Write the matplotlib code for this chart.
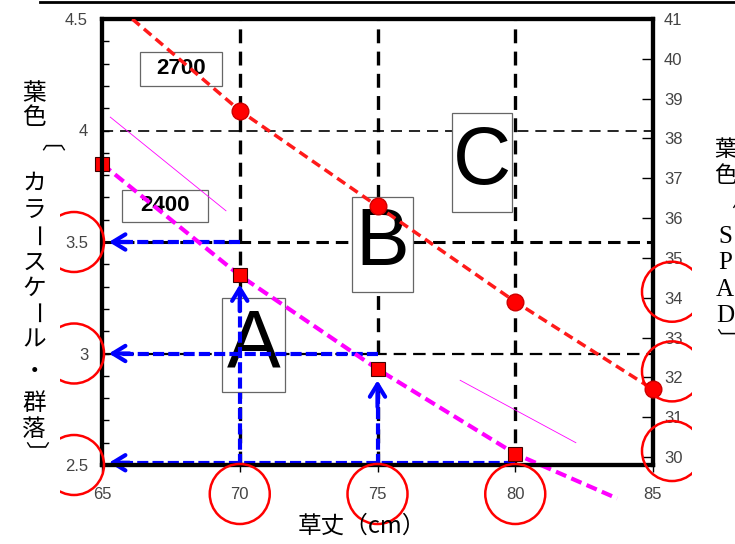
import matplotlib
matplotlib.use('Agg')
from matplotlib import pyplot as plt
from matplotlib.patches import Rectangle, Circle
from matplotlib.transforms import IdentityTransform, Bbox
from matplotlib.lines import Line2D

plt.rcParams['lines.scale_dashes'] = False

# colour scale (left axis): red squares on the magenta curve
sq_x = [65, 70, 75, 80]
sq_y = [3.85, 3.35, 2.93, 2.55]
mag_x = [65, 70, 75, 80, 83.7]
mag_y = [3.85, 3.35, 2.93, 2.55, 2.35]
thin1_x = [65.3, 69.5]
thin1_y = [4.06, 3.64]
thin2_x = [78.0, 82.2]
thin2_y = [2.88, 2.60]

# SPAD (right axis): red circles on the red line
spad_x = [70, 75, 80, 85]
spad_y = [38.7, 36.3, 33.9, 31.7]
spad_line_x = [66.1, 70, 75, 80, 85]
spad_line_y = [41, 38.7, 36.3, 33.9, 31.7]

xticks = [65, 70, 75, 80, 85]
yticks = [2.5, 3, 3.5, 4, 4.5]
ytick_labels = ['2.5', '3', '3.5', '4', '4.5']
spad_ticks = list(range(30, 42))

grid_x = [70, 75, 80]
# blue arrows: horizontal (start x, level) and vertical (x, tip level)
arrow_h = [(70, 3.5), (75, 3.0), (80, 2.51)]
arrow_v = [(70, 3.31), (75, 2.88)]

# circled ticks
circ_left = [3.5, 3.0, 2.5]
circ_bottom = [70, 75, 80]
circ_right = [34, 32, 30]

W, H = 735, 544
fig = plt.figure(figsize=(W / 100, H / 100), dpi=100)
ax = fig.add_axes([102 / W, 79 / H, 551 / W, 446 / H])
ax.set_xlim(65, 85)
ax.set_ylim(2.5, 4.5)
ax2 = ax.twinx()
ax2.set_ylim(29.8, 41)

tick_font = dict(family='Liberation Sans', size=12, color='#444')
ax.set_xticks(xticks)
ax.set_xticklabels([str(t) for t in xticks], **tick_font)
ax.set_yticks(yticks)
ax.set_yticklabels(ytick_labels, **tick_font)
ax.set_yticks([2.5 + 0.1 * i for i in range(21)], minor=True)
ax.tick_params(axis='x', direction='out', length=5, width=1, pad=11)
ax.tick_params(axis='y', which='both', direction='in', length=5, width=1, pad=10)
ax2.set_yticks(spad_ticks)
ax2.set_yticklabels([str(t) for t in spad_ticks], **tick_font)
ax2.tick_params(axis='y', direction='in', length=8, width=1, pad=8)
for a in (ax, ax2):
    for s in a.spines.values():
        s.set_linewidth(3)
        s.set_color('black')

# black dashed guide lines
for gx in grid_x:
    ax.axvline(gx, color='black', lw=2.4, dashes=(10, 6), zorder=2)
ax.axhline(4.0, color='black', lw=1.2, dashes=(8, 5), zorder=2)
ax.axhline(3.5, color='black', lw=2.2, dashes=(9, 5), zorder=2)
ax.axhline(3.0, color='black', lw=1.6, dashes=(9, 5), zorder=2)

# label boxes
def box(x0, y0, x1, y1, label, size, weight='normal', family=None):
    ax.add_patch(Rectangle((x0, y0), x1 - x0, y1 - y0, facecolor='white',
                           edgecolor='#666', lw=0.9, zorder=3))
    ax.text((x0 + x1) / 2, (y0 + y1) / 2, label, ha='center', va='center',
            fontsize=size, weight=weight, zorder=3.5,
            family=family or ['Liberation Sans', 'DejaVu Sans'])

narrow = ['Liberation Sans Narrow', 'Liberation Sans', 'DejaVu Sans']
box(66.38, 4.20, 69.36, 4.352, '2700', 16, 'bold')
box(65.73, 3.59, 68.85, 3.733, '2400', 16, 'bold')
box(69.35, 2.827, 71.64, 3.249, 'A', 58, family=narrow)
box(74.07, 3.276, 76.29, 3.702, 'B', 58, family=narrow)
box(77.70, 3.635, 79.88, 4.078, 'C', 58, family=narrow)

# blue dashed arrows
for x0, yl in arrow_h:
    ax.plot([x0, 65.6], [yl, yl], color='blue', lw=3, dashes=(8, 3), zorder=4)
    ax.annotate('', xy=(65.25, yl), xytext=(66.0, yl), zorder=4,
                arrowprops=dict(arrowstyle='->,head_length=0.9,head_width=0.55',
                                color='blue', lw=3, shrinkA=0, shrinkB=0))
for xv, yt in arrow_v:
    ax.plot([xv, xv], [2.5, yt - 0.04], color='blue', lw=3, dashes=(8, 3), zorder=4)
    ax.annotate('', xy=(xv, yt), xytext=(xv, yt - 0.12), zorder=4,
                arrowprops=dict(arrowstyle='->,head_length=0.9,head_width=0.55',
                                color='blue', lw=3, shrinkA=0, shrinkB=0))

# magenta curves and squares
ax.plot(thin1_x, thin1_y, color='#ff00ff', lw=0.6, zorder=4)
ax.plot(thin2_x, thin2_y, color='#ff00ff', lw=0.6, zorder=4)
ax.plot(mag_x, mag_y, color='#ff00ff', lw=3, dashes=(8, 4), zorder=5, clip_on=False)
ax.plot(sq_x, sq_y, 's', color='red', ms=10, mec='#400000', mew=0.8, zorder=6, clip_on=False)

# SPAD line and circles
ax2.plot(spad_line_x, spad_line_y, color='#ff1a1a', lw=2.5, dashes=(7, 4), zorder=3)
ax2.plot(spad_x, spad_y, 'o', color='red', ms=12, mec='#cc0000', zorder=4, clip_on=False)

# red circles around selected tick labels (pixel positions)
fig.canvas.draw()
clip = Bbox([[60, 0], [692, H]])
centers = []
for v in circ_left:
    centers.append((74, ax.transData.transform((65, v))[1]))
for v in circ_bottom:
    centers.append((ax.transData.transform((v, 2.5))[0], H - 494))
for v in circ_right:
    centers.append((672, ax2.transData.transform((85, v))[1] + 6))
for c in centers:
    circ = Circle(c, 30, fill=False, edgecolor='red', lw=1.8, transform=IdentityTransform())
    circ.set_clip_box(clip)
    fig.add_artist(circ)

# top frame line
fig.add_artist(Line2D([40 / W, 1], [1 - 2 / H, 1 - 2 / H], transform=fig.transFigure,
                      color='black', lw=2))

jp = ['Noto Sans CJK JP', 'DejaVu Sans']
# left axis label, written vertically
left_chars = ['葉', '色', '〔', 'カ', 'ラ', 'ー', 'ス', 'ケ', 'ー', 'ル', '・', '群', '落', '〕']
left_pos = [93, 118, 155, 183, 210, 237, 263, 288, 314, 340, 372, 403, 430, 452]
for ch, py in zip(left_chars, left_pos):
    rot = -90 if ch in '〔〕ー' else 0
    fig.text(34 / W, 1 - py / H, ch, ha='center', va='center', fontsize=17,
             family=jp, rotation=rot)

# right axis label
right_chars = ['葉', '色', '〔', 'S', 'P', 'A', 'D', '〕']
right_pos = [150, 175, 212, 237, 263, 290, 316, 338]
for ch, py in zip(right_chars, right_pos):
    rot = -90 if ch in '〔〕' else 0
    fam = ['Liberation Serif'] if ch in 'SPAD' else jp
    fig.text(725 / W, 1 - py / H, ch, ha='center', va='center',
             fontsize=18 if ch in 'SPAD' else 16, family=fam, rotation=rot)

fig.text(362 / W, 1 - 526 / H, '草丈（cm）', ha='center', va='center', fontsize=17, family=jp)

fig.savefig('out.png', dpi=100)
